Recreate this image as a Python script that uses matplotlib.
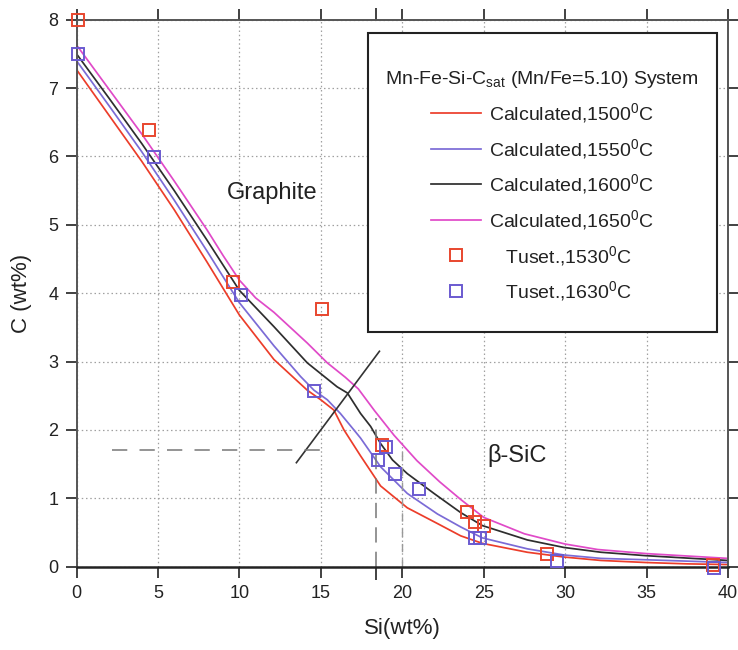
import matplotlib
matplotlib.use("Agg")
import matplotlib.pyplot as plt
from matplotlib.patches import Rectangle
from matplotlib.legend_handler import HandlerLine2D

plt.rcParams['font.family'] = ['Liberation Sans', 'DejaVu Sans']
plt.rcParams['mathtext.fontset'] = 'custom'
plt.rcParams['mathtext.rm'] = 'Liberation Sans'
plt.rcParams['mathtext.it'] = 'Liberation Sans'

# ---- calculated curves ----
x_1500 = [0, 2, 4, 6, 8, 10, 12.12, 14.17, 15.0, 15.8, 16.42, 17.44, 18.67, 20.31,
          22.16, 23.59, 24.92, 27.68, 29.93, 32.2, 34.95, 37.5, 40]
y_1500 = [7.27, 6.6, 5.93, 5.22, 4.46, 3.68, 3.03, 2.58, 2.44, 2.29, 2.0, 1.62, 1.18, 0.86,
          0.63, 0.45, 0.34, 0.21, 0.14, 0.09, 0.06, 0.04, 0.03]

x_1550 = [0, 2, 4, 6, 8, 10, 12.12, 13.76, 14.58, 15.4, 16.2, 17.03, 17.44, 18.67, 20.31,
          22.16, 23.59, 24.92, 27.68, 29.93, 32.2, 34.95, 40]
y_1550 = [7.40, 6.74, 6.07, 5.36, 4.62, 3.86, 3.23, 2.78, 2.58, 2.44, 2.24, 2.0, 1.88, 1.46, 1.07,
          0.77, 0.58, 0.42, 0.26, 0.17, 0.12, 0.10, 0.06]

x_1600 = [0, 2, 4, 6, 8, 10, 12.12, 14.17, 16.0, 16.63, 17.44, 18.06, 18.67, 19.4, 20.31, 21.95,
          23.59, 24.92, 27.68, 29.93, 32.2, 34.95, 40]
y_1600 = [7.50, 6.85, 6.19, 5.50, 4.78, 4.04, 3.51, 2.98, 2.63, 2.54, 2.24, 2.05, 1.8, 1.56, 1.36, 1.07,
          0.79, 0.6, 0.39, 0.28, 0.21, 0.16, 0.09]

x_1650 = [0, 2, 4, 6, 8, 9, 10, 11, 12.12, 14.17, 15.4, 16.5, 17.3, 18.3, 19.5, 20.9, 22.3,
          23.6, 25.0, 27.5, 30.0, 32.0, 35.0, 40]
y_1650 = [7.63, 6.98, 6.33, 5.64, 4.93, 4.55, 4.19, 3.93, 3.72, 3.27, 2.98, 2.77, 2.6, 2.28, 1.92, 1.55, 1.24,
          0.98, 0.72, 0.48, 0.33, 0.25, 0.19, 0.12]

# ---- experimental data (Tuset) ----
x_t1530 = [0.1, 4.42, 9.58, 15.05, 18.78, 24.0, 24.45, 25.0, 28.9, 39.1]
y_t1530 = [8.0, 6.39, 4.17, 3.77, 1.78, 0.80, 0.65, 0.60, 0.19, 0.02]

x_t1630 = [0.1, 4.73, 10.07, 14.58, 18.53, 18.98, 19.53, 21.03, 24.45, 24.8, 29.5, 39.15]
y_t1630 = [7.5, 5.99, 3.98, 2.57, 1.56, 1.75, 1.36, 1.14, 0.42, 0.42, 0.08, -0.02]

# phase boundary line and guide lines
bound_x = [13.5, 18.6]
bound_y = [1.52, 3.15]
hdash_x = [2.2, 15.0]
hdash_y = [1.7, 1.7]
vdash1_x = [18.37, 18.37]
vdash1_y = [0, 2.18]
vdash2_x = [20.0, 20.0]
vdash2_y = [0, 1.75]

xticks = [0, 5, 10, 15, 20, 25, 30, 35, 40]
yticks = [0, 1, 2, 3, 4, 5, 6, 7, 8]

labels_calc = ["Calculated,1500$^{0}$C", "Calculated,1550$^{0}$C",
               "Calculated,1600$^{0}$C", "Calculated,1650$^{0}$C"]
labels_exp = ["   Tuset.,1530$^{0}$C", "   Tuset.,1630$^{0}$C"]

c_red = '#ec3d2a'
c_blue = '#7b6bd6'
c_black = '#2e2e2e'
c_mag = '#e04ac8'
m_red = '#e8462e'
m_blue = '#6a5ad0'


class OffsetMarkerHandler(HandlerLine2D):
    def get_xdata(self, legend, xdescent, ydescent, width, height, fontsize):
        xdata, _ = super().get_xdata(legend, xdescent, ydescent, width, height, fontsize)
        return xdata, [-xdescent + 0.82 * width]


fig = plt.figure(figsize=(7.38, 6.5), dpi=100)
ax = fig.add_axes([0.1037, 0.1283, 0.8827, 0.8414])

ax.set_xlim(0, 40)
ax.set_ylim(0, 8)
ax.set_xticks(xticks)
ax.set_yticks(yticks)
ax.set_xticks([18.4], minor=True)
ax.grid(True, which='major', linestyle=(0, (1.2, 2.2)), color='#a0a0a0', linewidth=0.9)
ax.set_axisbelow(True)

lw = 1.25
h1, = ax.plot(x_1500, y_1500, color=c_red, lw=lw)
h2, = ax.plot(x_1550, y_1550, color=c_blue, lw=lw)
h3, = ax.plot(x_1600, y_1600, color=c_black, lw=lw)
h4, = ax.plot(x_1650, y_1650, color=c_mag, lw=lw)

ax.plot(bound_x, bound_y, color='#333333', lw=1.2)
ax.plot(hdash_x, hdash_y, color='#777777', lw=1.1, dashes=(10, 8))
ax.plot(vdash1_x, vdash1_y, color='#777777', lw=1.1, dashes=(10, 6))
ax.plot(vdash2_x, vdash2_y, color='#999999', lw=1.0, dashes=(6, 5))

h5, = ax.plot(x_t1530, y_t1530, linestyle='none', marker='s', markersize=8.5,
              markerfacecolor='none', markeredgecolor=m_red, markeredgewidth=1.4,
              clip_on=False, zorder=5)
h6, = ax.plot(x_t1630, y_t1630, linestyle='none', marker='s', markersize=8.5,
              markerfacecolor='none', markeredgecolor=m_blue, markeredgewidth=1.4,
              clip_on=False, zorder=5)

ax.text(12.0, 5.47, "Graphite", fontsize=17, color='#222222', ha='center', va='center')
ax.text(27.05, 1.63, "\u03b2-SiC", fontsize=17, color='#222222', ha='center', va='center')

# legend box
rect = Rectangle((0.4474, 0.4291), 0.5357, 0.5466, transform=ax.transAxes,
                 facecolor='white', edgecolor='#222222', linewidth=1.5, zorder=6)
ax.add_patch(rect)
leg = ax.legend([h1, h2, h3, h4, h5, h6], labels_calc + labels_exp,
                title="Mn-Fe-Si-C$_{sat}$ (Mn/Fe=5.10) System",
                loc='upper center', bbox_to_anchor=(0.715, 0.928),
                frameon=False, fontsize=14, title_fontsize=14,
                handlelength=2.6, handletextpad=0.4, labelspacing=0.6,
                borderpad=0.0, alignment='center',
                handler_map={h5: OffsetMarkerHandler(), h6: OffsetMarkerHandler()})
leg.set_zorder(7)
for t in leg.get_texts():
    t.set_color('#222222')
leg.get_title().set_color('#222222')

for s in ['left', 'top', 'right']:
    ax.spines[s].set_color('#555555')
    ax.spines[s].set_linewidth(1.4)
ax.spines['bottom'].set_color('#222222')
ax.spines['bottom'].set_linewidth(1.8)

ax.tick_params(which='both', direction='out', length=8, width=1.3, colors='#333333',
               top=True, right=True, labelsize=13, pad=5)
ax.tick_params(which='minor', length=9)
for lab in ax.get_xticklabels() + ax.get_yticklabels():
    lab.set_color('#222222')

ax.set_xlabel("Si(wt%)", fontsize=16, color='#222222', labelpad=12)
ax.set_ylabel("C (wt%)", fontsize=16, color='#222222', labelpad=12)

fig.savefig("out.png", dpi=100)
